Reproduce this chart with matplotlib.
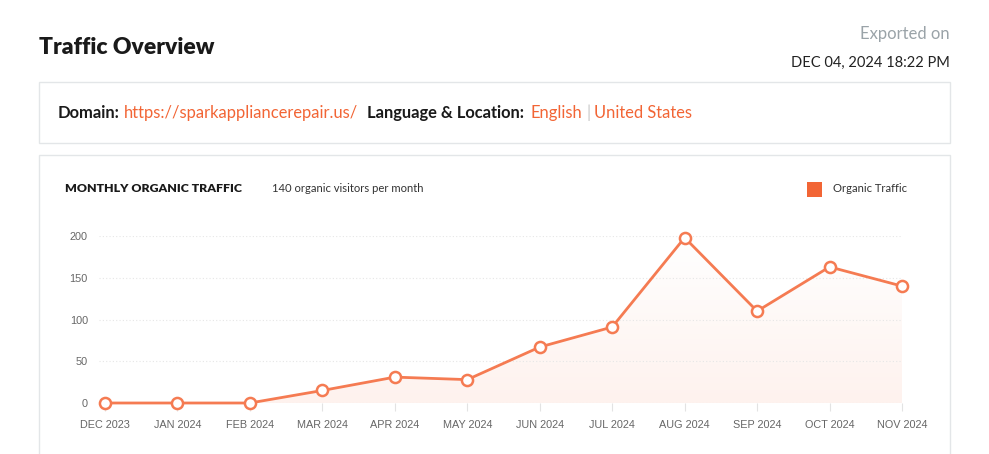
import matplotlib.pyplot as plt
import numpy as np
from matplotlib.patches import Rectangle
from matplotlib.colors import LinearSegmentedColormap

months = ['DEC 2023', 'JAN 2024', 'FEB 2024', 'MAR 2024', 'APR 2024', 'MAY 2024',
          'JUN 2024', 'JUL 2024', 'AUG 2024', 'SEP 2024', 'OCT 2024', 'NOV 2024']
traffic = [0, 0, 0, 15, 31, 28, 67, 91, 198, 110, 163, 140]
yticks = [0, 50, 100, 150, 200]

W, H = 989, 454
orange = '#f26535'
line_c = '#f57b52'
plt.rcParams['font.family'] = ['Lato', 'DejaVu Sans']

fig = plt.figure(figsize=(W / 100, H / 100), dpi=100)
fig.patch.set_facecolor('white')


def fx(x):
    return x / W


def fy(y):
    return 1 - y / H


# header
fig.text(fx(39), fy(47), 'Traffic Overview', fontsize=16.5, fontweight='heavy',
         color='#1a1a1a', va='center', ha='left')
fig.text(fx(950), fy(34), 'Exported on', fontsize=12, color='#9aa3a8', va='center', ha='right')
fig.text(fx(950), fy(63), 'DEC 04, 2024 18:22 PM', fontsize=10.5, color='#222222',
         va='center', ha='right')

# boxes
fig.patches.append(Rectangle((fx(39), fy(143)), fx(911), 61 / H, transform=fig.transFigure,
                             facecolor='white', edgecolor='#e3e6e8', lw=1, zorder=-5))
fig.patches.append(Rectangle((fx(39), fy(470)), fx(911), 315 / H, transform=fig.transFigure,
                             facecolor='white', edgecolor='#e3e6e8', lw=1, zorder=-5))

# domain line
yl = fy(113)
fs = 11.9
fig.text(fx(58), yl, 'Domain:', fontsize=fs, fontweight='bold', color='#1a1a1a', va='center')
fig.text(fx(124), yl, 'https://sparkappliancerepair.us/', fontsize=fs, color=orange, va='center')
fig.text(fx(367), yl, 'Language & Location:', fontsize=fs, fontweight='bold', color='#1a1a1a', va='center')
fig.text(fx(531), yl, 'English', fontsize=fs, color=orange, va='center')
fig.text(fx(586), yl, '|', fontsize=fs, color='#c8c8c8', va='center')
fig.text(fx(594), yl, 'United States', fontsize=fs, color=orange, va='center')

# chart header
fig.text(fx(65), fy(189), 'MONTHLY ORGANIC TRAFFIC', fontsize=8.9, fontweight='heavy',
         color='#1a1a1a', va='center')
fig.text(fx(272), fy(189), '140 organic visitors per month', fontsize=8.1, color='#333333', va='center')
fig.patches.append(Rectangle((fx(807), fy(197)), fx(15), 15 / H, transform=fig.transFigure,
                             facecolor=orange, edgecolor='none'))
fig.text(fx(833), fy(189), 'Organic Traffic', fontsize=8.1, color='#333333', va='center')

# axes
ax = fig.add_axes([fx(99), fy(403), fx(803), 167 / H])
ax.patch.set_alpha(0)
x = np.arange(len(months))

# gradient fill under the line
poly = ax.fill_between(x, traffic, 0, color='none')
grad = np.linspace(1, 0, 256).reshape(-1, 1)
img = ax.imshow(grad, extent=[x[0], x[-1], 0, 200], aspect='auto', origin='upper',
                cmap=LinearSegmentedColormap.from_list('g', ['#fef2ee', '#ffffff']), zorder=0.2)
img.set_clip_path(poly.get_paths()[0], transform=ax.transData)
ax.set_xlim(-0.083, len(months) - 1)
ax.set_ylim(0, 200)

ax.plot(x, traffic, color=line_c, lw=2, marker='o', ms=8, mfc='white', mec=line_c,
        mew=1.8, zorder=3, clip_on=False)

for s in ax.spines.values():
    s.set_visible(False)
ax.set_yticks(yticks)
ax.set_yticklabels([str(v) for v in yticks], fontfamily='Liberation Sans')
ax.tick_params(axis='y', length=0, pad=8, labelsize=7.8, labelcolor='#666666')
ax.grid(axis='y', color='#e6e6e6', ls=(0, (1, 2)), lw=0.8, zorder=0.5)
ax.set_xticks(x)
ax.set_xticklabels(months, fontfamily='Liberation Sans')
ax.tick_params(axis='x', length=6, color='#e3e3e3', pad=6, labelsize=7.8, labelcolor='#666666')

fig.savefig('out.png', dpi=100, facecolor='white')
